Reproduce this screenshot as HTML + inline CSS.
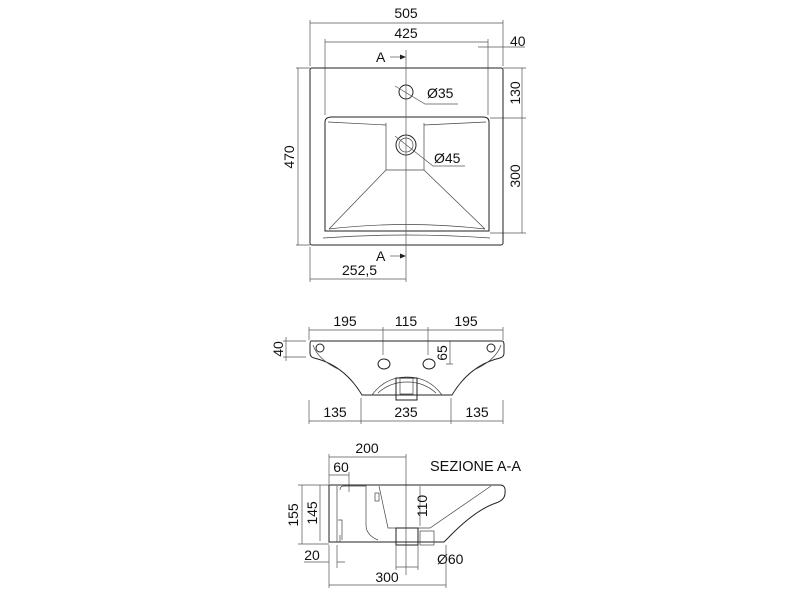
<!DOCTYPE html>
<html><head><meta charset="utf-8"><style>
html,body{margin:0;padding:0;background:#fff;}
svg{display:block}
text{font-family:"Liberation Sans",sans-serif;font-size:14px;fill:#111}
.l{stroke:#222;stroke-width:1;fill:none}
.t{stroke:#555;stroke-width:0.7;fill:none}
.c{stroke:#444;stroke-width:0.7;fill:none}
</style></head><body>
<svg width="800" height="600" viewBox="0 0 800 600">
<g>
<path class="t" d="M310 20V66M503 20V66M310 23H503M325 39V115M488 39V115M325 42H488M478 47H525M488 44V115"/>
<text x="406" y="18" text-anchor="middle">505</text>
<text x="406" y="38" text-anchor="middle">425</text>
<text x="510" y="46">40</text>
<path class="t" d="M296 68H310M296 245H310M298 68V245"/>
<text transform="translate(294,157) rotate(-90)" text-anchor="middle">470</text>
<path class="t" d="M503 68H526M490 118H526M490 233H526M522 68V233"/>
<text transform="translate(520,93) rotate(-90)" text-anchor="middle">130</text>
<text transform="translate(520,176) rotate(-90)" text-anchor="middle">300</text>
<rect class="l" x="310" y="68" width="193" height="177" rx="2"/>
<path class="l" d="M325 122Q325 117 332 117H483Q489 117 489 122V231H325Z"/>
<path class="c" d="M328 122L386 125M486 122L424 125M386 123V170H424V123M386 170L329 229M424 170L485 229M329 229Q406 220 485 229"/>
<path class="c" d="M323 238Q406 232 490 238"/>
<circle class="l" cx="406" cy="92" r="7"/>
<circle class="l" cx="406" cy="145" r="10"/>
<circle class="c" cx="406" cy="145" r="7"/>
<path class="t" d="M395 86L425 104H458M395 136L433 166H465"/>
<text x="427" y="98">Ø35</text>
<text x="434" y="163">Ø45</text>
<path class="t" d="M406 50V282"/>
<text x="376" y="62">A</text>
<path class="t" d="M390 57H404"/><path d="M406 57l-6-2.5v5z" fill="#222"/>
<text x="376" y="261">A</text>
<path class="t" d="M390 256H404"/><path d="M406 256l-6-2.5v5z" fill="#222"/>
<path class="t" d="M310 247V282M310 279H406"/>
<text x="342" y="275">252,5</text>
</g>
<g>
<path class="t" d="M309 327V340M383 327V355M428 327V355M503 327V340M309 330H503"/>
<text x="345" y="326" text-anchor="middle">195</text>
<text x="406" y="326" text-anchor="middle">115</text>
<text x="466" y="326" text-anchor="middle">195</text>
<path class="t" d="M283 341H306M283 357H306M286 337V361"/>
<text transform="translate(283,349) rotate(-90)" text-anchor="middle">40</text>
<path class="t" d="M446 341H453M446 364H453M450 341V364"/>
<text transform="translate(447,353) rotate(-90)" text-anchor="middle">65</text>
<path class="l" d="M311 341H502Q504 341 504 345V353Q504 357 500 358Q470 365 452 395H362Q344 365 314 358Q310 357 310 353V345Q310 341 311 341Z"/>
<path class="c" d="M313 345Q318 360 340 370M501 345Q496 360 474 370"/>
<path class="c" d="M372 395Q385 377 407 377Q429 377 442 395"/>
<path class="c" d="M378 393Q390 382 407 382Q424 382 436 393"/>
<rect class="l" x="396" y="378" width="21" height="22"/>
<path class="c" d="M400 378V394H413V378"/>
<circle class="l" cx="320" cy="348" r="4"/>
<circle class="l" cx="491" cy="348" r="4"/>
<ellipse class="l" cx="384" cy="364" rx="6" ry="5"/>
<ellipse class="l" cx="429" cy="364" rx="6" ry="5"/>
<path class="t" d="M309 400V424M361 398V424M451 398V424M503 400V424M309 421H503"/>
<text x="335" y="417" text-anchor="middle">135</text>
<text x="406" y="417" text-anchor="middle">235</text>
<text x="477" y="417" text-anchor="middle">135</text>
</g>
<g>
<path class="t" d="M329 454V484M406 454V575M329 457H406M349 472V492M329 475H349"/>
<text x="367" y="453" text-anchor="middle">200</text>
<text x="341" y="472" text-anchor="middle">60</text>
<text x="430" y="471" style="font-size:14.5px">SEZIONE A-A</text>
<path class="t" d="M298 485H329M298 544H329M302 485V544M320 485V541"/>
<text transform="translate(298,515) rotate(-90)" text-anchor="middle">155</text>
<text transform="translate(317,513) rotate(-90)" text-anchor="middle">145</text>
<path class="t" d="M420 486V526"/>
<text transform="translate(427,506) rotate(-90)" text-anchor="middle">110</text>
<path class="l" d="M329 485H500Q506 485 505 493Q505 500 496 503Q475 510 448 538L444 542H329Z"/>
<path class="c" d="M337 486V542M340 490Q340 486 344 486H366V525Q366 535 378 540M379 486L388 528H430L491 486"/>
<path class="c" d="M340 535V542M338 520H342V540"/>
<rect class="c" x="375" y="493" width="4" height="8"/>
<rect class="l" x="396" y="528" width="22" height="17"/>
<rect class="c" x="420" y="531" width="14" height="14"/>
<path class="t" d="M304 562H329M337 562H345M337 545V568M329 545V570M396 545V570M418 545V570M396 567H418"/>
<text x="312" y="560" text-anchor="middle">20</text>
<text x="437" y="564">Ø60</text>
<path class="t" d="M329 570V588M446 545V588M329 585H446"/>
<text x="387" y="582" text-anchor="middle">300</text>
</g>
</svg>
</body></html>
